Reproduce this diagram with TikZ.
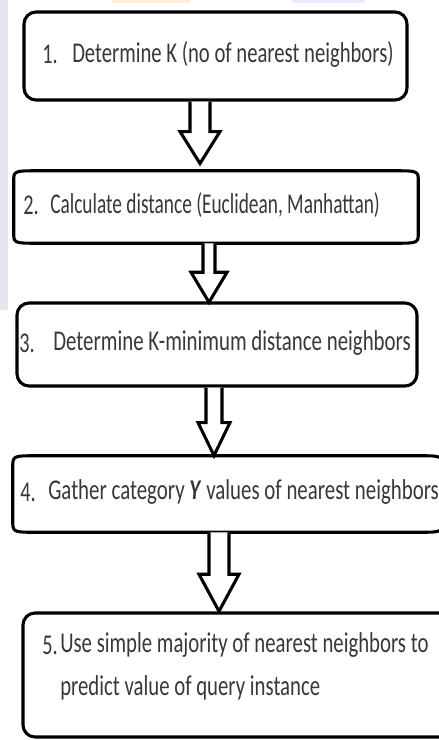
\documentclass[tikz,border=0pt]{standalone}
\usepackage{fontspec}
\setmainfont{Carlito}[FakeStretch=0.707]
\usetikzlibrary{calc}
\newdimen\px \px=0.75pt
\definecolor{txt}{HTML}{383838}
\definecolor{strip}{HTML}{E4E8EC}
\begin{document}
\begin{tikzpicture}[x=0.75pt,y=-0.75pt,
  boxline/.style={line width=2.3pt,draw=black,line join=round},
  rbox/.style={boxline,rounded corners=9pt,inner sep=0pt},
  ebox/.style={draw=none,inner sep=0pt},
  lbl/.style={text=txt,font=\fontsize{21.5}{26}\selectfont,inner sep=0pt,anchor=west},
  blockarrow/.style={line width=2.3pt,draw=black,fill=white,line join=miter}]
\useasboundingbox (0,0) rectangle (439,740);
\fill[white] (0,0) rectangle (439,740);
% faint background artifacts
\fill[strip] (0,0) rectangle (8,310);
\fill[orange!15] (112,0) rectangle (190,3);
\fill[blue!8] (292,0) rectangle (365,3);
% boxes
\node[rbox,minimum width=383\px,minimum height=88\px] (b1) at (215.5,56) {};
\node[ebox,minimum width=404\px,minimum height=72\px] (b2) at (216,207) {};
\node[rbox,minimum width=400\px,minimum height=83\px] (b3) at (217,344.5) {};
\node[ebox,minimum width=429\px,minimum height=76\px] (b4) at (227.5,494) {};
\node[rbox,minimum width=437\px,minimum height=124\px] (b5) at (241.5,675) {};
\draw[boxline] ([xshift=28\px]b2.north west) -- ([xshift=-28\px]b2.north east)
  .. controls (b2.north east) .. ([yshift=-10\px]b2.north east)
  -- ([yshift=10\px]b2.south east)
  .. controls (b2.south east) .. ([xshift=-28\px]b2.south east)
  -- ([xshift=28\px]b2.south west)
  .. controls (b2.south west) .. ([yshift=10\px]b2.south west)
  -- ([yshift=-10\px]b2.north west)
  .. controls (b2.north west) .. cycle;
\draw[boxline] ([xshift=24\px]b4.north west) -- ([xshift=-24\px]b4.north east)
  .. controls (b4.north east) .. ([yshift=-12\px]b4.north east)
  -- ([yshift=12\px]b4.south east)
  .. controls (b4.south east) .. ([xshift=-24\px]b4.south east)
  -- ([xshift=24\px]b4.south west)
  .. controls (b4.south west) .. ([yshift=12\px]b4.south west)
  -- ([yshift=-12\px]b4.north west)
  .. controls (b4.north west) .. cycle;
% arrows
\draw[blockarrow,shift={($(b1.south)+(-15.5,0)$)}]
  (-10,0) -- (-10,30) -- (-20,30) -- (0,62) -- (20,30) -- (10,30) -- (10,0);
\draw[blockarrow,shift={($(b2.south)+(-7,0)$)}]
  (-6,0) -- (-6,29) -- (-18,29) -- (0,59) -- (18,29) -- (6,29) -- (6,0);
\draw[blockarrow,shift={($(b3.south)+(-3,0)$)}]
  (-8,0) -- (-8,35) -- (-16,35) -- (0,68) -- (16,35) -- (8,35) -- (8,0);
\draw[blockarrow,shift={($(b4.south)+(-8.5,0)$)}]
  (-10,0) -- (-10,42) -- (-20,42) -- (0,79) -- (20,42) -- (10,42) -- (10,0);
% labels
\node[lbl] (n1) at (42,54) {1.};
\node[lbl] (t1) at (72,54) {\scalebox{1.02}[1]{Determine K (no of nearest neighbors)}};
\node[lbl] (n2) at (23,205) {2.};
\node[lbl] (t2) at (50,205) {\scalebox{0.955}[1]{Calculate distance (Euclidean, Manhattan)}};
\node[lbl] (n3) at (19,343) {3.};
\node[lbl] (t3) at (53,343) {\scalebox{1.03}[1]{Determine K-minimum distance neighbors}};
\node[lbl] (n4) at (20,492) {4.};
\node[lbl] (t4) at (48,492) {\scalebox{1.03}[1]{Gather category \textbf{\textit{Y}} values of nearest neighbors}};
\node[lbl] (n5) at (42,645) {5.};
\node[lbl] (t5a) at (60,645) {\scalebox{1.025}[1]{Use simple majority of nearest neighbors to}};
\node[lbl] (t5b) at (60,688) {\scalebox{1.025}[1]{predict value of query instance}};
\end{tikzpicture}
\end{document}
